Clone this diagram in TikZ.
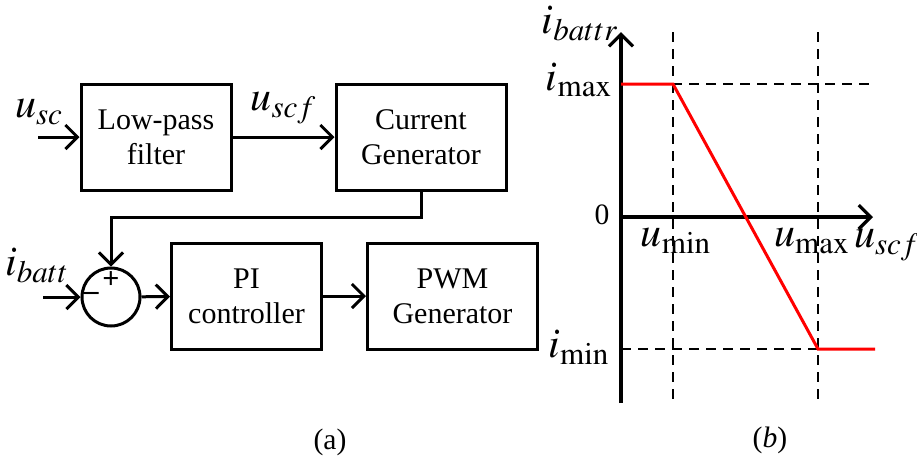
\documentclass[tikz,border=0pt]{standalone}
\usepackage{mathptmx}
\usepackage{fontspec}
\setmainfont{Liberation Serif}
\newfontfamily\blockfont{Liberation Serif}
\usetikzlibrary{arrows.meta}
\definecolor{curvered}{HTML}{FF0000}
\tikzset{
  block/.style={draw, line width=1.5pt, minimum width=75pt, minimum height=53pt,
               align=center, font=\blockfont\fontsize{15}{17.5}\selectfont, inner sep=0pt},
  wideblock/.style={block, minimum width=85pt},
  sumnode/.style={draw, circle, line width=1.5pt, minimum size=29pt, inner sep=0pt},
  sig/.style={line width=1.5pt, -{Straight Barb[length=6pt,width=12pt]}},
  varlabel/.style={font=\fontsize{21}{22}\selectfont, inner sep=0pt},
  signlabel/.style={font=\blockfont\fontsize{15}{15}\selectfont\bfseries, inner sep=0pt},
  ticklabel/.style={font=\blockfont\fontsize{14.8}{16}\selectfont, inner sep=0pt},
  guide/.style={dash pattern=on 5pt off 3.5pt, line width=0.75pt},
  axis/.style={line width=1.6pt, -{Straight Barb[length=6pt,width=12pt]}},
  curve/.style={curvered, line width=1.5pt},
}

\begin{document}
\begin{tikzpicture}[x=0.5pt, y=-0.5pt]
  \useasboundingbox (0,0) rectangle (917,462);
  % (a) control loop
  \node[block] (lpf) at (156,137) {Low-pass\\filter};
  \node[wideblock] (cg) at (421,137) {Current\\Generator};
  \node[sumnode] (sum) at (111,297) {};
  \node[block] (pi) at (246.5,296) {PI\\controller};
  \node[wideblock] (pwm) at (452.5,296) {PWM\\Generator};
  \coordinate (usc) at (38,137);
  \coordinate (ibatt) at (43,297);
  \node[varlabel] (lblusc) at (39,112) {$u_{sc}$};
  \node[varlabel] (lblibatt) at (37,266) {$i_{batt}$};
  \node[signlabel] (plus) at (111,280) {+};
  \node[signlabel] (minus) at (91,296) {–};
  \draw[sig] (usc) -- (lpf);
  \draw[sig] (lpf) -- node[varlabel, above=6pt] (lbluscf) {$u_{scf}$} (cg);
  \draw[sig] (cg.south) -- ++(0,26) -| (sum.north);
  \draw[sig] (ibatt) -- (sum);
  \draw[sig] (sum) -- (pi);
  \draw[sig] (pi) -- (pwm);
  \node[ticklabel] (capa) at (330,442) {(a)};
  % (b) reference current
  \coordinate (o) at (621,217);
  \coordinate (ytop) at (621,32);
  \coordinate (ybot) at (621,403);
  \coordinate (xend) at (873,217);
  \coordinate (imax) at (621,84);
  \coordinate (imin) at (621,349);
  \coordinate (kneemax) at (673,84);
  \coordinate (kneemin) at (818,349);
  \draw[guide] (673,32) -- (673,403);
  \draw[guide] (818,32) -- (818,403);
  \draw[guide] (imax) -- (873,84);
  \draw[guide] (imin) -- (kneemin);
  \draw[axis] (ybot) -- (ytop);
  \draw[axis] (o) -- (xend);
  \draw[curve] (imax) -- (kneemax) -- (kneemin) -- (875,349);
  \node[varlabel] (lblibattr) at (580,24) {$i_{battr}$};
  \node[varlabel] (lblimax) at (579,80) {$i_{\mathrm{max}}$};
  \node[varlabel] (lblimin) at (579,347) {$i_{\mathrm{min}}$};
  \node[ticklabel] (lblzero) at (602,215) {0};
  \node[varlabel] (lblumin) at (676,241) {$u_{\mathrm{min}}$};
  \node[varlabel] (lblumax) at (812,241) {$u_{\mathrm{max}}$};
  \node[varlabel] (lbluscfb) at (887,245) {$u_{scf}$};
  \node[ticklabel] (capb) at (770,440) {(\textit{b})};
\end{tikzpicture}
\end{document}
